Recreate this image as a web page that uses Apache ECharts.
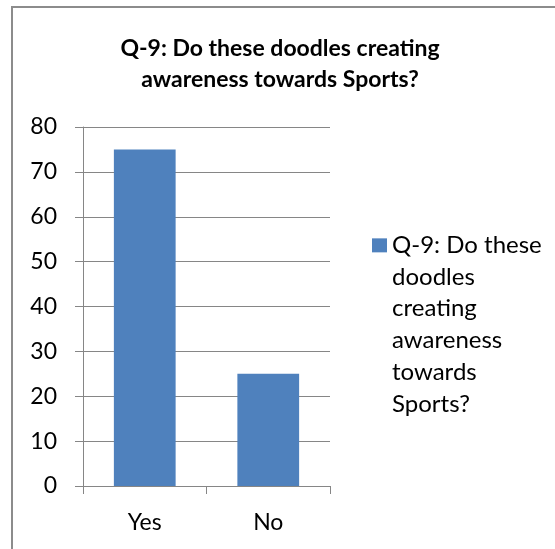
<!DOCTYPE html>
<html>
<head>
<meta charset="utf-8">
<script src="https://cdn.jsdelivr.net/npm/echarts@6/dist/echarts.min.js"></script>
<style>
  html, body { margin: 0; padding: 0; background: #fff; }
  #chart { width: 555px; height: 549px; }
</style>
</head>
<body>
<div id="chart"></div>
<script>
// Survey answers for question 9
const categories = ['Yes', 'No'];
const responses = [75, 25];
const seriesName = 'Q-9: Do these\ndoodles\ncreating\nawareness\ntowards\nSports?';
const titleText = 'Q-9: Do these doodles creating\nawareness towards Sports?';
const yTicks = { min: 0, max: 80, step: 10 };

const FONT = 'Lato';
const GRAY = '#868686';

const chart = echarts.init(document.getElementById('chart'), null, { renderer: 'canvas' });

// Legend text is vertically centred on its marker, so pad the top with
// empty lines to keep the marker beside the first line of the name.
function legendLabel(name) {
  const lines = name.split('\n');
  return '\n'.repeat(lines.length - 1) + name;
}

chart.setOption({
  animation: false,
  backgroundColor: '#ffffff',
  textStyle: { fontFamily: FONT },
  graphic: [{
    type: 'rect',
    shape: { x: 12, y: 7, width: 700, height: 700 },
    style: { fill: 'none', stroke: '#8c8c8c', lineWidth: 2 },
    silent: true,
    z: -1
  }],
  title: {
    text: titleText,
    left: 275,
    top: 28,
    textAlign: 'center',
    textStyle: {
      fontFamily: FONT,
      fontWeight: 'bold',
      fontSize: 23,
      lineHeight: 31,
      color: '#000'
    }
  },
  legend: {
    left: 372,
    top: 71,
    padding: 0,
    itemWidth: 15,
    itemHeight: 14,
    icon: 'rect',
    formatter: legendLabel,
    textStyle: {
      fontFamily: FONT,
      fontSize: 24,
      lineHeight: 31.7,
      color: '#000'
    }
  },
  grid: { left: 83, right: 225, top: 127, bottom: 63, containLabel: false },
  xAxis: {
    type: 'category',
    data: categories,
    axisLine: { lineStyle: { color: GRAY, width: 1 } },
    axisTick: { show: true, length: 8, lineStyle: { color: GRAY } },
    axisLabel: { color: '#000', fontFamily: FONT, fontSize: 23, margin: 25 }
  },
  yAxis: {
    type: 'value',
    min: yTicks.min,
    max: yTicks.max,
    interval: yTicks.step,
    axisLine: { show: true, lineStyle: { color: GRAY, width: 1 } },
    axisTick: { show: true, length: 8, lineStyle: { color: GRAY } },
    splitLine: { show: true, lineStyle: { color: GRAY, width: 1 } },
    axisLabel: { color: '#000', fontFamily: FONT, fontSize: 23, margin: 26 }
  },
  series: [{
    name: seriesName,
    type: 'bar',
    data: responses,
    barWidth: '50%',
    itemStyle: { color: '#4f81bd' }
  }]
});
</script>
</body>
</html>
